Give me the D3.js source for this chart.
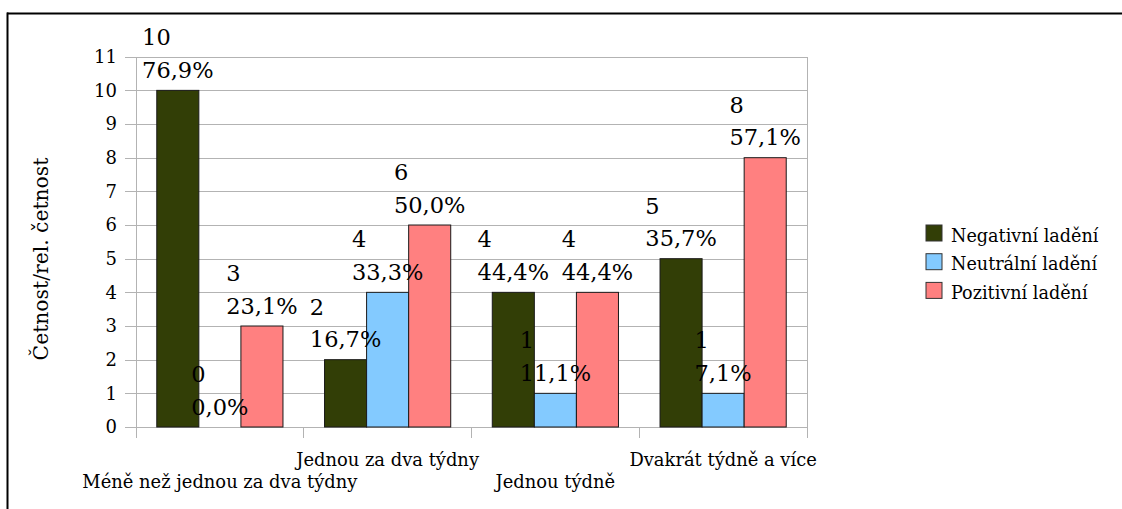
<!DOCTYPE html>
<html>
<head>
<meta charset="utf-8">
<script src="https://cdn.jsdelivr.net/npm/d3@7"></script>
<style>
  html, body { margin: 0; padding: 0; background: #fff; }
  svg { display: block; }
  text { font-family: "DejaVu Serif", "Liberation Serif", serif; fill: #000; }
</style>
</head>
<body>
<div id="chart"></div>
<script>
// data
var categories = ["Méně než jednou za dva týdny", "Jednou za dva týdny", "Jednou týdně", "Dvakrát týdně a více"];
var seriesNames = ["Negativní ladění", "Neutrální ladění", "Pozitivní ladění"];
var negativni = [10, 2, 4, 5];
var neutralni = [0, 4, 1, 1];
var pozitivni = [3, 6, 4, 8];
var seriesValues = [negativni, neutralni, pozitivni];
var yTicks = [0, 1, 2, 3, 4, 5, 6, 7, 8, 9, 10, 11];
var colors = ["#323e06", "#83caff", "#ff8080"];

var W = 1122, H = 509;
var plotLeft = 136, plotRight = 807, plotTop = 56.7, plotBottom = 427;

var svg = d3.select("#chart").append("svg")
    .attr("width", W).attr("height", H);

// outer frame (only top and left edges are visible)
svg.append("line").attr("x1", 7).attr("x2", W).attr("y1", 13.5).attr("y2", 13.5)
  .attr("stroke", "#000").attr("stroke-width", 2);
svg.append("line").attr("x1", 7.5).attr("x2", 7.5).attr("y1", 12.5).attr("y2", H)
  .attr("stroke", "#000").attr("stroke-width", 2);

var x0 = d3.scaleBand().domain(categories).range([plotLeft, plotRight]).padding(0);
var x1 = d3.scaleBand().domain(seriesNames).range([0, x0.bandwidth()])
    .paddingInner(0).paddingOuter(0.494);
var y = d3.scaleLinear().domain([0, 11]).range([plotBottom, plotTop]);

// grid
var grid = svg.append("g").attr("transform", "translate(" + plotLeft + ",0)")
  .call(d3.axisLeft(y).tickValues(yTicks).tickSize(-(plotRight - plotLeft)).tickFormat(""));
grid.select(".domain").remove();
grid.selectAll("line").attr("stroke", "#b3b3b3").attr("shape-rendering", "crispEdges");

// y axis
var yAxis = svg.append("g").attr("transform", "translate(" + plotLeft + ",0)")
  .call(d3.axisLeft(y).tickValues(yTicks).tickSize(11).tickPadding(8));
yAxis.attr("font-family", null);
yAxis.select(".domain").remove();
yAxis.selectAll("line").attr("stroke", "#b3b3b3").attr("shape-rendering", "crispEdges");
yAxis.selectAll("text").style("font-size", "18px").attr("fill", "#000");

// vertical boundaries / category ticks
var bounds = categories.map(function(c) { return x0(c); }).concat([plotRight]);
svg.selectAll(".vb").data(bounds).enter().append("line")
  .attr("x1", function(d) { return d; }).attr("x2", function(d) { return d; })
  .attr("y1", function(d, i) { return (i === 0 || i === bounds.length - 1) ? plotTop : plotBottom; })
  .attr("y2", plotBottom + 11)
  .attr("stroke", "#b3b3b3").attr("shape-rendering", "crispEdges");
svg.append("line").attr("x1", plotLeft).attr("x2", plotRight).attr("y1", plotBottom).attr("y2", plotBottom)
  .attr("stroke", "#b3b3b3").attr("shape-rendering", "crispEdges");

// category labels, staggered
svg.selectAll(".cat").data(categories).enter().append("text")
  .attr("x", function(d) { return x0(d) + x0.bandwidth() / 2; })
  .attr("y", function(d, i) { return i % 2 === 0 ? 488 : 466; })
  .attr("text-anchor", "middle")
  .style("font-size", "17.9px")
  .text(function(d) { return d; });

// bars
var barData = [];
categories.forEach(function(c, ci) {
  var total = d3.sum(seriesValues, function(s) { return s[ci]; });
  seriesNames.forEach(function(s, si) {
    var v = seriesValues[si][ci];
    barData.push({cat: c, series: s, si: si, value: v,
      pct: d3.format(".1f")(v / total * 100).replace(".", ",") + "%"});
  });
});

svg.selectAll(".bar").data(barData).enter().append("rect")
  .attr("x", function(d) { return x0(d.cat) + x1(d.series); })
  .attr("y", function(d) { return y(d.value); })
  .attr("width", x1.bandwidth())
  .attr("height", function(d) { return y(0) - y(d.value); })
  .attr("fill", function(d) { return colors[d.si]; })
  .attr("stroke", "#1a1a1a").attr("stroke-width", 1);

// data labels: two lines, left aligned, block centred over bar
var labels = svg.selectAll(".lbl").data(barData).enter().append("text")
  .style("font-size", "22.5px");
labels.append("tspan").attr("class", "l1").text(function(d) { return d.value; });
labels.append("tspan").attr("class", "l2").text(function(d) { return d.pct; });
labels.each(function(d) {
  var t = d3.select(this);
  var w = Math.max(t.select(".l1").node().getComputedTextLength(),
                   t.select(".l2").node().getComputedTextLength());
  var cx = x0(d.cat) + x1(d.series) + x1.bandwidth() / 2;
  var xs = cx - w / 2;
  var base = y(d.value) - 12.5;
  t.select(".l1").attr("x", xs).attr("y", base - 32.5);
  t.select(".l2").attr("x", xs).attr("y", base);
});

// y title
svg.append("text")
  .attr("transform", "translate(48," + 259 + ") rotate(-90)")
  .attr("text-anchor", "middle")
  .style("font-size", "20.3px")
  .text("Četnost/rel. četnost");

// legend
var legend = svg.selectAll(".leg").data(seriesNames).enter().append("g")
  .attr("transform", function(d, i) { return "translate(926," + (225 + i * 28.7) + ")"; });
legend.append("rect").attr("width", 16).attr("height", 16)
  .attr("fill", function(d, i) { return colors[i]; })
  .attr("stroke", "#333").attr("stroke-width", 1);
legend.append("text").attr("x", 25).attr("y", 16.5)
  .style("font-size", "17.6px")
  .text(function(d) { return d; });
</script>
</body>
</html>
